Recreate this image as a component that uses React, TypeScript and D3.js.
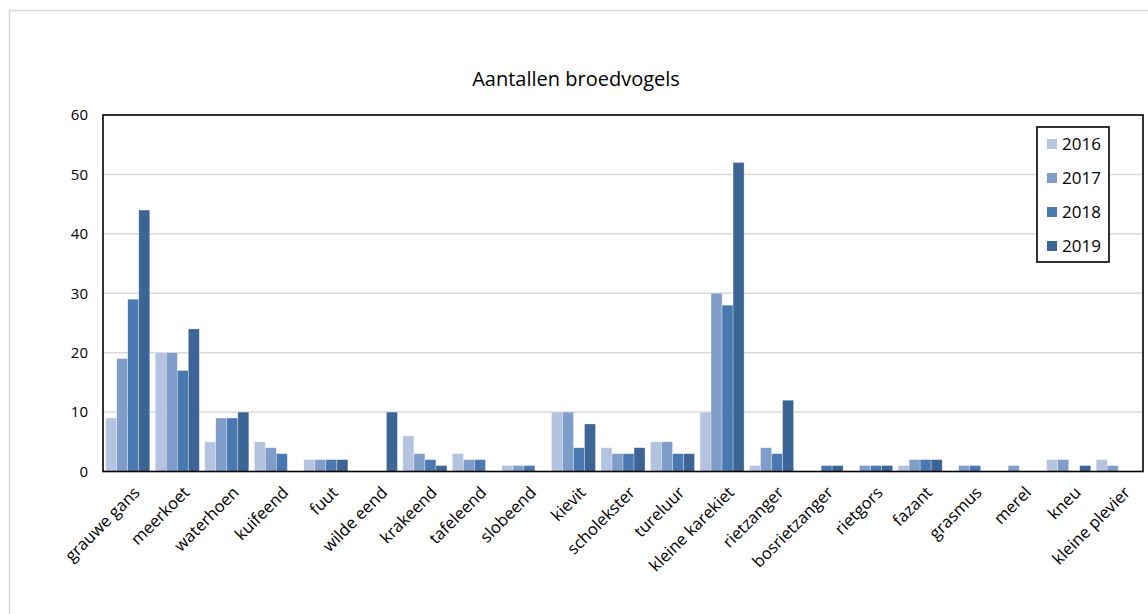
import * as d3 from 'd3';

const categories = [
  'grauwe gans', 'meerkoet', 'waterhoen', 'kuifeend', 'fuut', 'wilde eend', 'krakeend',
  'tafeleend', 'slobeend', 'kievit', 'scholekster', 'tureluur', 'kleine karekiet',
  'rietzanger', 'bosrietzanger', 'rietgors', 'fazant', 'grasmus', 'merel', 'kneu', 'kleine plevier',
];
const years = ['2016', '2017', '2018', '2019'];
const v2016 = [9, 20, 5, 5, 2, 0, 6, 3, 1, 10, 4, 5, 10, 1, 0, 0, 1, 0, 0, 2, 2];
const v2017 = [19, 20, 9, 4, 2, 0, 3, 2, 1, 10, 3, 5, 30, 4, 0, 1, 2, 1, 1, 2, 1];
const v2018 = [29, 17, 9, 3, 2, 0, 2, 2, 1, 4, 3, 3, 28, 3, 1, 1, 2, 1, 0, 0, 0];
const v2019 = [44, 24, 10, 0, 2, 10, 1, 0, 0, 8, 4, 3, 52, 12, 1, 1, 2, 0, 0, 1, 0];
const yTicks = [0, 10, 20, 30, 40, 50, 60];
const colors = ['#b4c3df', '#7f9dc9', '#4a79b1', '#3c6595'];

const W = 1148;
const H = 614;
const m = { top: 115, right: 5, bottom: 142.5, left: 103 };
const font = "'Open Sans', 'Noto Sans', sans-serif";

export default function App() {
  const series = [v2016, v2017, v2018, v2019];
  const x0 = d3.scaleBand().domain(categories).range([m.left, W - m.right]).paddingInner(0.11).paddingOuter(0.055);
  const x1 = d3.scaleBand().domain(years).range([0, x0.bandwidth()]);
  const y = d3.scaleLinear().domain([0, 60]).range([H - m.bottom, m.top]);

  return (
    <svg width={W} height={H} style={{ position: 'absolute', left: 0, top: 0, background: '#fff' }} fontFamily={font}>
      <rect x={9.5} y={10.5} width={W} height={H} fill="#fff" stroke="#d9d9d9" strokeWidth={1.5} />
      <text x={576} y={86} textAnchor="middle" fontSize={20} fill="#000">Aantallen broedvogels</text>
      {yTicks.map((t) => (
        <g key={t}>
          {t > 0 && t < 60 && (
            <line x1={m.left} x2={W - m.right} y1={y(t)} y2={y(t)} stroke="#d9d9d9" strokeWidth={1.5} />
          )}
          <text x={88} y={y(t)} dy="0.35em" textAnchor="end" fontSize={15} fill="#000">{t}</text>
        </g>
      ))}
      {categories.map((c, i) => (
        <g key={c} transform={`translate(${x0(c)},0)`}>
          {series.map((s, j) =>
            s[i] > 0 ? (
              <rect key={j} x={x1(years[j])!} y={y(s[i])} width={x1.bandwidth()} height={y(0) - y(s[i])}
                fill={colors[j]} stroke="#ffffff" strokeOpacity={0.5} strokeWidth={0.6} />
            ) : null
          )}
        </g>
      ))}
      <rect x={m.left} y={m.top} width={W - m.right - m.left} height={y(0) - m.top} fill="none" stroke="#000" strokeWidth={1.6} />
      {categories.map((c) => {
        const cx = x0(c)! + x0.bandwidth() / 2 + 9;
        return (
          <text key={c} transform={`translate(${cx},${y(0) + 18}) rotate(-45)`} textAnchor="end" dy="0.35em" fontSize={16.5} fill="#000">{c}</text>
        );
      })}
      <rect x={1037} y={127} width={72} height={135} fill="#fff" stroke="#000" strokeWidth={1.6} />
      {years.map((yr, j) => (
        <g key={yr} transform={`translate(1047,${144 + j * 34})`}>
          <rect x={0} y={-5} width={10} height={10} fill={colors[j]} />
          <text x={15} y={0} dy="0.35em" fontSize={17} fill="#000">{yr}</text>
        </g>
      ))}
    </svg>
  );
}
